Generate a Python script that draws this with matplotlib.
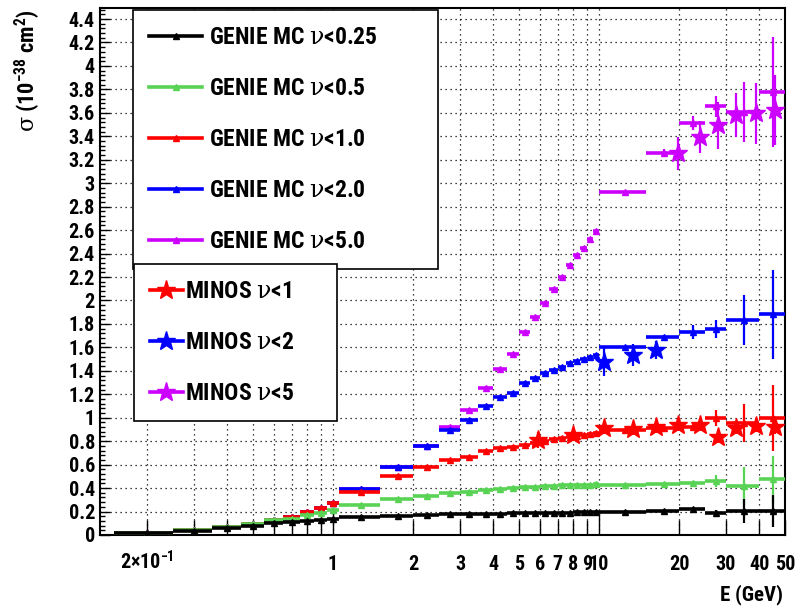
import matplotlib
matplotlib.use('Agg')
import matplotlib.pyplot as plt
from matplotlib import font_manager
from matplotlib.lines import Line2D
from matplotlib.ticker import MultipleLocator, FormatStrFormatter

# a narrow bold sans is closest to the original look; fall back to Liberation Sans
installed = {f.name for f in font_manager.fontManager.ttflist}
narrow = [n for n in ['Liberation Sans Narrow', 'Roboto Condensed', 'Open Sans Condensed',
                      'Arial Narrow'] if n in installed]
if narrow:
    base_font, leg_size, tick_size = narrow[0], 17, 14.5
else:
    base_font, leg_size, tick_size = 'Liberation Sans', 15, 13

plt.rcParams['font.family'] = [base_font, 'DejaVu Sans']
plt.rcParams['font.weight'] = 'bold'
plt.rcParams['mathtext.fontset'] = 'custom'
plt.rcParams['mathtext.rm'] = base_font + ':bold'
plt.rcParams['mathtext.sf'] = 'DejaVu Serif:weight=normal'   # greek letters, symbol-font style
plt.rcParams['mathtext.default'] = 'rm'

NU = r'$\mathsf{\nu}$'
SIGMA = r'$\mathsf{\sigma}$'

# GENIE MC binning (GeV)
edges = [0.15, 0.25, 0.35, 0.45, 0.55, 0.65, 0.75, 0.85, 0.95, 1.05,
         1.5, 2.0, 2.5, 3.0, 3.5, 4.0, 4.5, 5.0, 5.5, 6.0, 6.5, 7.0, 7.5,
         8.0, 8.5, 9.0, 9.5, 10.0, 15.0, 20.0, 25.0, 30.0, 40.0, 50.0]

# cross sections per bin, 1e-38 cm^2
xs_nu025 = [0.015, 0.037, 0.058, 0.080, 0.100, 0.113, 0.120, 0.128, 0.135,
            0.153, 0.165, 0.170, 0.175, 0.178, 0.180, 0.182, 0.184, 0.186, 0.187,
            0.188, 0.190, 0.190, 0.191, 0.192, 0.192, 0.193, 0.193,
            0.199, 0.205, 0.219, 0.185, 0.205, 0.205]
err_nu025 = [0.002, 0.002, 0.003, 0.003, 0.003, 0.003, 0.003, 0.003, 0.003,
             0.003, 0.003, 0.003, 0.003, 0.003, 0.003, 0.003, 0.003, 0.003, 0.003,
             0.003, 0.003, 0.003, 0.003, 0.003, 0.003, 0.003, 0.003,
             0.004, 0.008, 0.010, 0.030, 0.100, 0.140]

xs_nu05 = [0.015, 0.040, 0.065, 0.095, 0.127, 0.140, 0.170, 0.190, 0.213,
           0.256, 0.307, 0.330, 0.360, 0.369, 0.384, 0.390, 0.398, 0.406, 0.412,
           0.418, 0.418, 0.424, 0.426, 0.426, 0.426, 0.428, 0.432,
           0.426, 0.435, 0.440, 0.460, 0.418, 0.475]
err_nu05 = [0.002, 0.002, 0.003, 0.003, 0.003, 0.004, 0.004, 0.004, 0.004,
            0.004, 0.004, 0.004, 0.004, 0.004, 0.005, 0.005, 0.005, 0.005, 0.005,
            0.005, 0.005, 0.005, 0.005, 0.005, 0.005, 0.005, 0.005,
            0.005, 0.010, 0.015, 0.050, 0.160, 0.200]

xs_nu1 = [0.015, 0.040, 0.065, 0.095, 0.130, 0.157, 0.200, 0.227, 0.275,
          0.370, 0.500, 0.580, 0.640, 0.667, 0.716, 0.744, 0.753, 0.767, 0.787,
          0.804, 0.816, 0.824, 0.838, 0.844, 0.850, 0.858, 0.867,
          0.895, 0.915, 0.923, 1.000, 0.955, 1.000]
err_nu1 = [0.002, 0.002, 0.003, 0.003, 0.004, 0.004, 0.005, 0.005, 0.005,
           0.005, 0.006, 0.006, 0.006, 0.006, 0.007, 0.007, 0.007, 0.007, 0.007,
           0.008, 0.008, 0.008, 0.008, 0.008, 0.008, 0.008, 0.008,
           0.010, 0.015, 0.030, 0.070, 0.160, 0.280]

xs_nu2 = [0.015, 0.040, 0.065, 0.095, 0.130, 0.157, 0.200, 0.227, 0.275,
          0.390, 0.580, 0.755, 0.895, 0.980, 1.100, 1.175, 1.215, 1.300, 1.336,
          1.378, 1.407, 1.435, 1.464, 1.480, 1.497, 1.515, 1.535,
          1.605, 1.685, 1.733, 1.756, 1.833, 1.884]
err_nu2 = [0.002, 0.002, 0.003, 0.003, 0.004, 0.004, 0.005, 0.005, 0.005,
           0.006, 0.007, 0.008, 0.008, 0.008, 0.009, 0.009, 0.009, 0.010, 0.010,
           0.010, 0.010, 0.010, 0.010, 0.010, 0.010, 0.010, 0.010,
           0.010, 0.020, 0.060, 0.080, 0.210, 0.380]

xs_nu5 = [0.015, 0.040, 0.065, 0.095, 0.130, 0.157, 0.200, 0.227, 0.275,
          0.390, 0.580, 0.755, 0.925, 1.066, 1.256, 1.412, 1.543, 1.733, 1.861,
          1.980, 2.094, 2.202, 2.302, 2.387, 2.444, 2.521, 2.594,
          2.927, 3.259, 3.510, 3.657, 3.610, 3.780]
err_nu5 = [0.002, 0.002, 0.003, 0.003, 0.004, 0.004, 0.005, 0.005, 0.005,
           0.006, 0.007, 0.008, 0.009, 0.010, 0.010, 0.010, 0.010, 0.010, 0.010,
           0.010, 0.010, 0.010, 0.010, 0.010, 0.010, 0.010, 0.010,
           0.010, 0.030, 0.060, 0.090, 0.255, 0.470]

# MINOS points
minos_e1 = [5.89, 7.97, 10.45, 13.43, 16.42, 19.87, 23.88, 27.89, 32.81, 38.87, 45.77]
minos_nu1 = [0.810, 0.853, 0.910, 0.900, 0.923, 0.938, 0.938, 0.833, 0.915, 0.929, 0.923]
minos_nu1_err = [0.07, 0.05, 0.05, 0.05, 0.05, 0.05, 0.05, 0.05, 0.05, 0.05, 0.06]
minos_e2 = [10.45, 13.43, 16.42]
minos_nu2 = [1.478, 1.535, 1.577]
minos_nu2_err = [0.12, 0.09, 0.075]
minos_e5 = [19.87, 23.88, 27.89, 32.81, 38.87, 45.77]
minos_nu5 = [3.254, 3.396, 3.495, 3.580, 3.595, 3.623]
minos_nu5_err = [0.14, 0.135, 0.20, 0.19, 0.26, 0.30]

green = '#59d354'
purple = '#cc00ff'
genie = [
    (xs_nu5, err_nu5, purple, 'GENIE MC ' + NU + '<5.0'),
    (xs_nu2, err_nu2, 'blue', 'GENIE MC ' + NU + '<2.0'),
    (xs_nu1, err_nu1, 'red', 'GENIE MC ' + NU + '<1.0'),
    (xs_nu05, err_nu05, green, 'GENIE MC ' + NU + '<0.5'),
    (xs_nu025, err_nu025, 'black', 'GENIE MC ' + NU + '<0.25'),
]

lo = edges[:-1]
hi = edges[1:]
centers = [(a + b) / 2 for a, b in zip(lo, hi)]

fig = plt.figure(figsize=(8.03, 6.08), dpi=100)
ax = fig.add_axes([0.1245, 0.1201, 0.8531, 0.8667])

for i, (vals, errs, col, lab) in enumerate(genie):
    z = 3 + i
    ax.hlines(vals, lo, hi, colors=col, lw=2.6, zorder=z)
    ax.errorbar(centers, vals, yerr=errs, fmt='^', color=col, ms=4.5,
                elinewidth=1.6, capsize=0, zorder=z)

for e, v, err, col in [(minos_e1, minos_nu1, minos_nu1_err, 'red'),
                       (minos_e2, minos_nu2, minos_nu2_err, 'blue'),
                       (minos_e5, minos_nu5, minos_nu5_err, purple)]:
    ax.errorbar(e, v, yerr=err, fmt='*', color=col, ms=14,
                elinewidth=1.6, capsize=0, zorder=10)

ax.set_xscale('log')
ax.set_xlim(0.133, 50)
ax.set_ylim(0, 4.494)

# x axis: decades as major ticks, everything else minor
ax.set_xticks([1, 10], ['1', '10'], va='baseline')
minor_x = [0.2, 0.3, 0.4, 0.5, 0.6, 0.7, 0.8, 0.9,
           2, 3, 4, 5, 6, 7, 8, 9, 20, 30, 40, 50]
minor_lab = ['2\u00d710$^{-1}$', '', '', '', '', '', '', '',
             '2', '3', '4', '5', '6', '7', '8', '9', '20', '30', '40', '50']
ax.set_xticks(minor_x, minor_lab, minor=True, va='baseline')
ax.tick_params(axis='x', which='both', direction='in', top=False,
               pad=25.2, labelsize=tick_size, width=1)
ax.tick_params(axis='x', which='major', length=16)
ax.tick_params(axis='x', which='minor', length=11)

ax.yaxis.set_major_locator(MultipleLocator(0.2))
ax.yaxis.set_minor_locator(MultipleLocator(0.04))
ax.yaxis.set_major_formatter(FormatStrFormatter('%g'))
ax.tick_params(axis='y', which='both', direction='in', right=False,
               pad=3.6, labelsize=tick_size, width=1)
ax.tick_params(axis='y', which='major', length=7.2)
ax.tick_params(axis='y', which='minor', length=3.6)

for s in ax.spines.values():
    s.set_linewidth(1.5)

ax.set_axisbelow(True)
ax.grid(True, which='major', axis='y', color='black', ls=(0, (1, 3)), lw=0.9)
ax.grid(True, which='both', axis='x', color='black', ls=(0, (1, 3)), lw=0.9)

# legends: rows about 50 px apart
fpx = leg_size * 100 / 72
spacing = 50 / fpx - 0.93
bpad = 27 / fpx - 0.465

h1 = [Line2D([], [], color=c, lw=2.6, marker='^', ms=4.5) for _, _, c, _ in reversed(genie)]
l1 = [lab for _, _, _, lab in reversed(genie)]
leg1 = ax.legend(h1, l1, loc='upper left', bbox_to_anchor=(0.0482, 0.5161, 0.4452, 0.4801),
                 mode='expand', borderaxespad=0, fontsize=leg_size, labelspacing=spacing,
                 borderpad=bpad, handlelength=53 / fpx, handletextpad=7 / fpx,
                 fancybox=False, edgecolor='black', framealpha=1)
leg1.get_frame().set_linewidth(1.2)
leg1.set_zorder(20)
ax.add_artist(leg1)

h2 = [Line2D([], [], color=c, lw=2.6, marker='*', ms=14) for c in ['red', 'blue', purple]]
l2 = ['MINOS ' + NU + '<1', 'MINOS ' + NU + '<2', 'MINOS ' + NU + '<5']
leg2 = ax.legend(h2, l2, loc='upper left', bbox_to_anchor=(0.0496, 0.222, 0.2964, 0.2922),
                 mode='expand', borderaxespad=0, fontsize=leg_size, labelspacing=spacing,
                 borderpad=bpad, handlelength=33 / fpx, handletextpad=2 / fpx,
                 fancybox=False, edgecolor='black', framealpha=1)
leg2.get_frame().set_linewidth(1.2)
leg2.set_zorder(20)

fig.text(0.035, 0.984, SIGMA + ' (10$^{-38}$ cm$^{2}$)', rotation=90,
         ha='center', va='top', fontsize=tick_size + 1.5)
fig.text(783 / 803, 1 - 595 / 608, 'E (GeV)', ha='right', va='center', fontsize=tick_size + 0.5)

fig.savefig('out.png', dpi=100)
